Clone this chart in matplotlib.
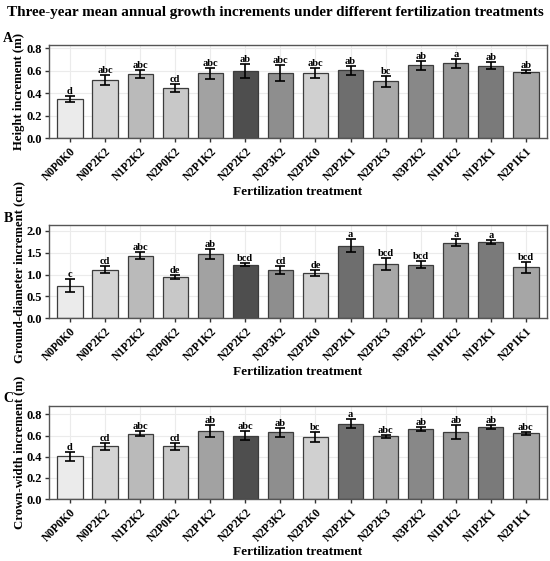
import matplotlib
matplotlib.use('agg')
import matplotlib.pyplot as plt
import numpy as np

plt.rcParams['font.family'] = ['Liberation Serif', 'DejaVu Serif']
plt.rcParams['font.weight'] = 'bold'

treatments = ['N0P0K0', 'N0P2K2', 'N1P2K2', 'N2P0K2', 'N2P1K2', 'N2P2K2', 'N2P3K2',
              'N2P2K0', 'N2P2K1', 'N2P2K3', 'N3P2K2', 'N1P1K2', 'N1P2K1', 'N2P1K1']
bar_colors = ['#ebebeb', '#d4d4d4', '#bababa', '#c8c8c8', '#a2a2a2', '#4e4e4e', '#8e8e8e',
              '#d0d0d0', '#6e6e6e', '#a8a8a8', '#888888', '#989898', '#7a7a7a', '#a6a6a6']

height_mean = [0.35, 0.52, 0.57, 0.445, 0.578, 0.596, 0.584, 0.584, 0.604, 0.507, 0.649, 0.667, 0.646, 0.593]
height_err = [0.027, 0.045, 0.037, 0.037, 0.047, 0.062, 0.07, 0.044, 0.043, 0.05, 0.043, 0.039, 0.034, 0.016]
height_letters = ['d', 'abc', 'abc', 'cd', 'abc', 'ab', 'abc', 'abc', 'ab', 'bc', 'ab', 'a', 'ab', 'ab']

diam_mean = [0.745, 1.11, 1.43, 0.943, 1.468, 1.224, 1.11, 1.027, 1.658, 1.232, 1.224, 1.72, 1.734, 1.163]
diam_err = [0.148, 0.08, 0.076, 0.05, 0.118, 0.034, 0.087, 0.072, 0.152, 0.137, 0.076, 0.08, 0.046, 0.118]
diam_letters = ['c', 'cd', 'abc', 'de', 'ab', 'bcd', 'cd', 'de', 'a', 'bcd', 'bcd', 'a', 'a', 'bcd']

crown_mean = [0.403, 0.498, 0.617, 0.498, 0.643, 0.60, 0.63, 0.583, 0.712, 0.595, 0.658, 0.636, 0.68, 0.62]
crown_err = [0.044, 0.033, 0.025, 0.033, 0.057, 0.043, 0.044, 0.047, 0.041, 0.014, 0.019, 0.066, 0.017, 0.017]
crown_letters = ['d', 'cd', 'abc', 'cd', 'ab', 'abc', 'ab', 'bc', 'a', 'abc', 'ab', 'ab', 'ab', 'abc']


def draw_panel(ax, means, errs, letters, ylabel, ymax, yticks):
    x = np.arange(len(treatments))
    ax.set_axisbelow(True)
    ax.grid(True, color='#ebebeb', linewidth=0.8)
    ax.bar(x, means, width=0.72, color=bar_colors, edgecolor='#3c3c3c', linewidth=0.9)
    ax.errorbar(x, means, yerr=errs, fmt='none', ecolor='black', elinewidth=1.2,
                capsize=3.5, capthick=1.2)
    for xi, m, e, lab in zip(x, means, errs, letters):
        ax.text(xi, m + e, lab, ha='center', va='bottom', fontsize=7.5, fontweight='bold')
    ax.set_xlim(-0.6, 13.6)
    ax.set_ylim(0, ymax)
    ax.set_yticks(yticks)
    ax.set_yticklabels(['%.1f' % t for t in yticks], fontsize=9, fontweight='bold')
    ax.set_xticks(x)
    ax.set_xticklabels(treatments, rotation=45, ha='right', rotation_mode='anchor',
                       fontsize=8.3, fontweight='bold')
    ax.set_ylabel(ylabel, fontsize=9.2, fontweight='bold', labelpad=1)
    ax.set_xlabel('Fertilization treatment', fontsize=9.5, fontweight='bold', labelpad=2)
    for s in ax.spines.values():
        s.set_color('#555555')
        s.set_linewidth(1.0)
    ax.tick_params(length=3, width=1.0, color='#333333', pad=2)


fig = plt.figure(figsize=(5.5, 5.61), dpi=100)
axA = fig.add_axes([0.089, 0.7535, 0.9055, 0.1663])
axB = fig.add_axes([0.089, 0.4326, 0.9055, 0.1663])
axC = fig.add_axes([0.089, 0.1105, 0.9055, 0.1658])

draw_panel(axA, height_mean, height_err, height_letters, 'Height increment (m)', 0.83,
           [0.0, 0.2, 0.4, 0.6, 0.8])
draw_panel(axB, diam_mean, diam_err, diam_letters, 'Ground-diameter increment (cm)', 2.13,
           [0.0, 0.5, 1.0, 1.5, 2.0])
draw_panel(axC, crown_mean, crown_err, crown_letters, 'Crown-width increment (m)', 0.88,
           [0.0, 0.2, 0.4, 0.6, 0.8])

fig.text(0.5, 0.978, 'Three-year mean annual growth increments under different fertilization treatments',
         ha='center', va='center', fontsize=10.9, fontweight='bold')
fig.text(0.006, 0.931, 'A', fontsize=10, fontweight='bold', va='center')
fig.text(0.006, 0.611, 'B', fontsize=10, fontweight='bold', va='center')
fig.text(0.006, 0.290, 'C', fontsize=10, fontweight='bold', va='center')

plt.savefig('out.png', dpi=100)
